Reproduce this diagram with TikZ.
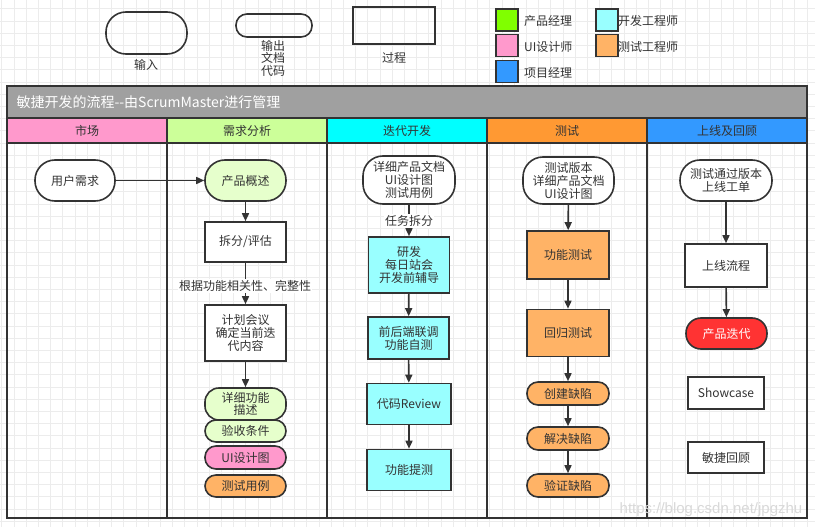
\documentclass[tikz,border=0pt]{standalone}
\usepackage{fontspec}
\setmainfont{Noto Sans CJK SC}
\newfontfamily\wmfont{Liberation Sans}
\usetikzlibrary{arrows.meta}
\definecolor{ink}{HTML}{333333}
\definecolor{pmgreen}{HTML}{80FF00}
\definecolor{uipink}{HTML}{FF99CC}
\definecolor{pjblue}{HTML}{3399FF}
\definecolor{devcyan}{HTML}{99FFFF}
\definecolor{qaorange}{HTML}{FFB366}
\definecolor{reqgreen}{HTML}{CCFF99}
\definecolor{lightgreen}{HTML}{E6FFCC}
\definecolor{headcyan}{HTML}{00FFFF}
\definecolor{headorange}{HTML}{FF9933}
\definecolor{titlegray}{HTML}{A0A0A0}
\definecolor{iterred}{HTML}{FF3333}
\begin{document}
\begin{tikzpicture}[x=1pt,y=-1pt,
  every node/.style={text=ink,font=\fontsize{12}{13}\selectfont},
  box/.style={draw=ink,line width=1.6pt,align=center,inner sep=0pt,minimum width=81pt},
  arr/.style={draw=ink,line width=1.6pt,-{Triangle[length=8pt,width=7pt]}},
  lbl/.style={fill=white,inner sep=1pt}]
\useasboundingbox (0,0) rectangle (815,527);
\fill[white] (0,0) rectangle (815,527);
% grid
\foreach \i in {0,...,66} \draw[gray!15,line width=0.8pt] ({1.8+12.2*\i},0) -- ++(0,527);
\foreach \i in {0,...,42} \draw[gray!15,line width=0.8pt] (0,{8.8+12.2*\i}) -- ++(815,0);
% legend
\node[box,rounded corners=20pt,minimum width=81pt,minimum height=42pt] (kIn) at (146.5,33) {};
\node (kInT) at (146,65) {输入};
\node[box,rounded corners=11pt,minimum width=76pt,minimum height=23pt] (kOut) at (274,25.5) {};
\node[align=center,font=\fontsize{12}{12.5}\selectfont] (kOutT) at (273,58) {输出\\文档\\代码};
\node[box,minimum width=82pt,minimum height=37pt] (kProc) at (394,25.5) {};
\node (kProcT) at (394,58) {过程};
\node[box,fill=pmgreen,minimum width=22pt,minimum height=22pt] (sPM) at (507,20) {};
\node[anchor=west,inner sep=0pt] (sPMT) at (524,21) {产品经理};
\node[box,fill=uipink,minimum width=22pt,minimum height=22pt] (sUI) at (507,45.5) {};
\node[anchor=west,inner sep=0pt] (sUIT) at (524,46.5) {UI设计师};
\node[box,fill=pjblue,minimum width=22pt,minimum height=22pt] (sPJ) at (507,71.5) {};
\node[anchor=west,inner sep=0pt] (sPJT) at (524,72.5) {项目经理};
\node[box,fill=devcyan,minimum width=22pt,minimum height=22pt] (sDev) at (607,20) {};
\node[anchor=west,inner sep=0pt] (sDevT) at (618,21) {开发工程师};
\node[box,fill=qaorange,minimum width=22pt,minimum height=22pt] (sQA) at (607,45.5) {};
\node[anchor=west,inner sep=0pt] (sQAT) at (618,46.5) {测试工程师};
% pool and lanes
\fill[titlegray] (7,86) rectangle (807,118);
\fill[uipink] (7,118) rectangle (167,143);
\fill[reqgreen] (167,118) rectangle (327,143);
\fill[headcyan] (327,118) rectangle (487,143);
\fill[headorange] (487,118) rectangle (647,143);
\fill[pjblue] (647,118) rectangle (807,143);
\draw[ink,line width=1.6pt] (7,86) rectangle (807,518);
\draw[ink,line width=1.6pt] (7,118) -- (807,118) (7,143) -- (807,143);
\foreach \x in {167,327,487,647} \draw[ink,line width=1.6pt] (\x,118) -- (\x,518);
\node[anchor=west,text=white,font=\fontsize{14}{16}\selectfont] (title) at (13,102) {敏捷开发的流程{-}{-}由ScrumMaster进行管理};
\node (hMarket) at (87,130.5) {市场};
\node (hReq) at (247,130.5) {需求分析};
\node (hDev) at (407,130.5) {迭代开发};
\node (hTest) at (567,130.5) {测试};
\node (hRel) at (727,130.5) {上线及回顾};
% market and requirements
\node[box,rounded corners=20pt,minimum width=80pt,minimum height=41pt,fill=white] (nUser) at (75,180.5) {用户需求};
\node[box,rounded corners=20pt,minimum height=41pt,fill=lightgreen] (nOverview) at (245.5,180.5) {产品概述};
\node[box,minimum height=40pt,fill=white] (nSplit) at (245.5,242) {拆分/评估};
\node[box,minimum height=56pt,fill=white] (nPlan) at (245.5,333) {计划会议\\确定当前迭\\代内容};
\node[box,rounded corners=14pt,minimum height=32pt,fill=lightgreen,font=\fontsize{12}{12}\selectfont] (nDetail) at (245.5,404) {详细功能\\描述};
\node[box,rounded corners=11pt,minimum height=22pt,fill=lightgreen] (nAccept) at (245.5,431) {验收条件};
\node[box,rounded corners=11pt,minimum height=23pt,fill=uipink] (nUI) at (245.5,457.5) {UI设计图};
\node[box,rounded corners=11pt,minimum height=22pt,fill=qaorange] (nCase) at (245.5,486) {测试用例};
\draw[arr] (nUser) -- (nOverview);
\draw[arr] (nOverview) -- (nSplit);
\draw[arr] (nSplit) -- (nPlan);
\node[lbl] (tSplit) at (245,286) {根据功能相关性、完整性};
\draw[arr] (nPlan) -- (nDetail);
% development
\node[box,rounded corners=20pt,minimum width=92pt,minimum height=48pt,fill=white] (nDoc) at (409,180) {详细产品文档\\UI设计图\\测试用例};
\node[box,minimum height=56pt,fill=devcyan] (nDev) at (409,265) {研发\\每日站会\\开发前辅导};
\node[box,minimum height=42pt,fill=devcyan] (nJoint) at (408.5,338) {前后端联调\\功能自测};
\node[box,minimum width=84pt,minimum height=41pt,fill=devcyan] (nReview) at (409,404) {代码Review};
\node[box,minimum width=84pt,minimum height=41pt,fill=devcyan] (nSubmit) at (409,470) {功能提测};
\draw[arr] (nDoc) -- (nDev);
\node[lbl] (tTask) at (409,221) {任务拆分};
\draw[arr] (nDev) -- (nJoint);
\draw[arr] (nJoint) -- (nReview);
\draw[arr] (nReview) -- (nSubmit);
% testing
\node[box,rounded corners=20pt,minimum width=91pt,minimum height=47pt,fill=white] (nVer) at (568.5,180.5) {测试版本\\详细产品文档\\UI设计图};
\node[box,minimum width=82pt,minimum height=48pt,fill=qaorange] (nFunc) at (568,255) {功能测试};
\node[box,minimum width=82pt,minimum height=47pt,fill=qaorange] (nRegr) at (568,333) {回归测试};
\node[box,rounded corners=11pt,minimum width=82pt,minimum height=23pt,fill=qaorange] (nBugNew) at (568,393.5) {创建缺陷};
\node[box,rounded corners=11pt,minimum width=82pt,minimum height=23pt,fill=qaorange] (nBugFix) at (568,438.5) {解决缺陷};
\node[box,rounded corners=11pt,minimum width=82pt,minimum height=23pt,fill=qaorange] (nBugChk) at (568,485.5) {验证缺陷};
\draw[arr] (nVer) -- (nFunc);
\draw[arr] (nFunc) -- (nRegr);
\draw[arr] (nRegr) -- (nBugNew);
\draw[arr] (nBugNew) -- (nBugFix);
\draw[arr] (nBugFix) -- (nBugChk);
% release and review
\node[box,rounded corners=20pt,minimum width=92pt,minimum height=41pt,fill=white] (nPass) at (726,180.5) {测试通过版本\\上线工单};
\node[box,minimum width=82pt,minimum height=43pt,fill=white] (nLaunch) at (726,265.5) {上线流程};
\node[box,rounded corners=15pt,minimum height=31pt,fill=iterred,text=white] (nIter) at (726.5,333.5) {产品迭代};
\node[box,minimum width=76pt,minimum height=32pt,fill=white] (nShow) at (726,393) {Showcase};
\node[box,minimum width=76pt,minimum height=31pt,fill=white] (nRetro) at (726,457.5) {敏捷回顾};
\draw[arr] (nPass) -- (nLaunch);
\draw[arr] (nLaunch) -- (nIter);
% watermark
\node[text=gray!30,font=\wmfont\fontsize{15}{15}\selectfont] (wm) at (711,510) {https://blog.csdn.net/jpgzhu};
\end{tikzpicture}
\end{document}
